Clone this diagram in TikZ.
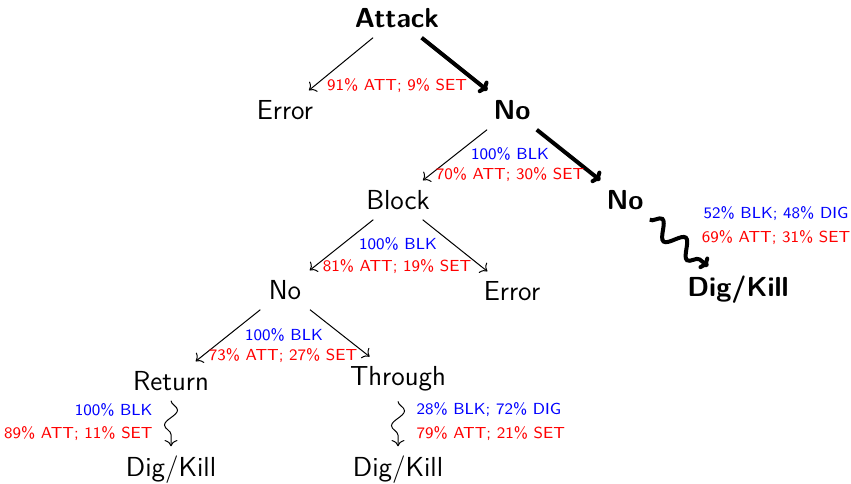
\documentclass[tikz,border=0pt]{standalone}
\usetikzlibrary{decorations.pathmorphing,arrows.meta}
\begin{document}
\begin{tikzpicture}[x=0.4pt,y=-0.4pt,
  every node/.style={font=\sffamily\fontsize{11}{13}\selectfont},
  st/.style={inner sep=3.8pt},
  bst/.style={inner sep=3.8pt,font=\sffamily\bfseries\fontsize{11}{13}\selectfont},
  lb/.style={inner sep=0pt,font=\sffamily\fontsize{6.4}{8}\selectfont},
  lbb/.style={lb,text=blue},
  lbr/.style={lb,text=red},
  thin arr/.style={->,line width=0.4pt},
  thick arr/.style={-{To[length=3pt,width=6pt]},line width=1.6pt},
  wavy/.style={->,line width=0.4pt,decorate,decoration={snake,amplitude=2.6pt,segment length=12pt,post length=2pt}},
  thick wavy/.style={-{To[length=3pt,width=6pt]},line width=1.6pt,decorate,decoration={snake,amplitude=3.4pt,segment length=12pt,post length=3pt}}]
\path[use as bounding box] (0,0) rectangle (851,483);
% nodes
\node[bst] (att) at (397,18) {Attack};
\node[st] (err1) at (285,110) {Error};
\node[bst] (no1) at (512,110) {No};
\node[st] (blk) at (398,200) {Block};
\node[bst] (no2) at (625,200) {No};
\node[st] (no3) at (285,290) {No};
\node[st] (err2) at (512,291) {Error};
\node[bst] (dk1) at (738,290) {Dig/Kill};
\node[st] (ret) at (171,381) {Return};
\node[st] (thr) at (398,379) {Through};
\node[st] (dk2) at (171,470) {Dig/Kill};
\node[st] (dk3) at (398,470) {Dig/Kill};
% edges
\draw[thin arr] (att) -- (err1);
\draw[thick arr] (att) -- (no1);
\draw[thin arr] (no1) -- (blk);
\draw[thick arr] (no1) -- (no2);
\draw[thin arr] (blk) -- (no3);
\draw[thin arr] (blk) -- (err2);
\draw[thin arr] (no3) -- (ret);
\draw[thin arr] (no3) -- (thr);
\draw[thick wavy] (no2) -- (dk1);
\draw[wavy] (ret) -- (dk2);
\draw[wavy] (thr) -- (dk3);
% labels
\node[lbr] (l1r) at (397,86) {91\% ATT; 9\% SET};
\node[lbb] (l2b) at (510,154) {100\% BLK};
\node[lbr] (l2r) at (510,175) {70\% ATT; 30\% SET};
\node[lbb] (l3b) at (398,244) {100\% BLK};
\node[lbr] (l3r) at (397,267) {81\% ATT; 19\% SET};
\node[lbb] (l4b) at (284,335) {100\% BLK};
\node[lbr] (l4r) at (283,356) {73\% ATT; 27\% SET};
\node[lbb] (l5b) at (776,214) {52\% BLK; 48\% DIG};
\node[lbr] (l5r) at (776,238) {69\% ATT; 31\% SET};
\node[lbb,anchor=east] (l6b) at (153,410) {100\% BLK};
\node[lbr,anchor=east] (l6r) at (153,434) {89\% ATT; 11\% SET};
\node[lbb,anchor=west] (l7b) at (416,410) {28\% BLK; 72\% DIG};
\node[lbr,anchor=west] (l7r) at (416,434) {79\% ATT; 21\% SET};
\end{tikzpicture}
\end{document}
